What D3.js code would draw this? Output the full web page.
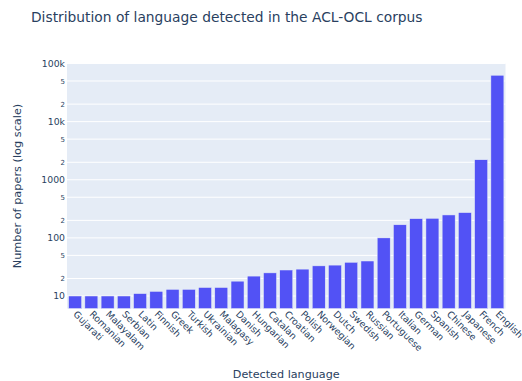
<!DOCTYPE html>
<html>
<head>
<meta charset="utf-8">
<script src="https://cdn.jsdelivr.net/npm/d3@7"></script>
<style>
  html, body { margin: 0; padding: 0; background: #fff; }
  svg { display: block; font-family: "DejaVu Sans", Verdana, sans-serif; }
</style>
</head>
<body>
<svg id="chart" width="522" height="381"></svg>
<script>
// Detected languages, ordered by paper count
const languages = ["Gujarati", "Romanian", "Malayalam", "Serbian", "Latin", "Finnish", "Greek",
  "Turkish", "Ukrainian", "Malagasy", "Danish", "Hungarian", "Catalan", "Croatian", "Polish",
  "Norwegian", "Dutch", "Swedish", "Russian", "Portuguese", "Italian", "German", "Spanish",
  "Chinese", "Japanese", "French", "English"];
const paperCounts = [10, 10, 10, 10, 11, 12, 13, 13, 14, 14, 18, 22, 25, 28, 29, 33, 34, 38, 40,
  100, 168, 214, 217, 248, 272, 2208, 62800];

// Log axis ticks: decades get full labels, 2 and 5 get short minor labels
const yTickValues = [10, 20, 50, 100, 200, 500, 1000, 2000, 5000, 10000, 20000, 50000, 100000];
const yTickLabels = ["10", "2", "5", "100", "2", "5", "1000", "2", "5", "10k", "2", "5", "100k"];

const titleText = "Distribution of language detected in the ACL-OCL corpus";
const xTitle = "Detected language";
const yTitle = "Number of papers (log scale)";

const svg = d3.select("#chart");
const plot = { left: 67, right: 505.5, top: 63.5, bottom: 308.5 };
const textColor = "#2a3f5f";

const x = d3.scaleBand()
  .domain(languages)
  .range([plot.left, plot.right])
  .paddingInner(0.2)
  .paddingOuter(0.1);

const y = d3.scaleLog()
  .domain([Math.pow(10, 0.785), 100000])
  .range([plot.bottom, plot.top]);

// Plot background
svg.append("rect")
  .attr("x", plot.left).attr("y", plot.top)
  .attr("width", plot.right - plot.left).attr("height", plot.bottom - plot.top)
  .attr("fill", "#e5ecf6");

// Horizontal grid lines
svg.append("g").selectAll("line")
  .data(yTickValues)
  .join("line")
  .attr("x1", plot.left).attr("x2", plot.right)
  .attr("y1", d => y(d)).attr("y2", d => y(d))
  .attr("stroke", "#fff").attr("stroke-width", 1);

// Bars
svg.append("g").selectAll("rect")
  .data(languages.map((l, i) => ({ lang: l, count: paperCounts[i] })))
  .join("rect")
  .attr("x", d => x(d.lang))
  .attr("width", x.bandwidth())
  .attr("y", d => y(d.count))
  .attr("height", d => plot.bottom - y(d.count))
  .attr("fill", "#5252f5")
  .attr("stroke", "#e5ecf6")
  .attr("stroke-width", 0.5);

// Y axis
const yAxis = d3.axisLeft(y)
  .tickValues(yTickValues)
  .tickFormat((d, i) => yTickLabels[i])
  .tickSize(0)
  .tickPadding(2);
const gy = svg.append("g")
  .attr("transform", `translate(${plot.left},0)`)
  .call(yAxis);
gy.select(".domain").remove();
gy.selectAll("text")
  .attr("fill", textColor)
  .attr("font-family", "DejaVu Sans, Verdana, sans-serif")
  .attr("font-size", (d, i) => yTickLabels[i].length === 1 ? 7 : 9.3);

// X axis with angled labels
const xAxis = d3.axisBottom(x).tickSize(0).tickPadding(0);
const gx = svg.append("g")
  .attr("transform", `translate(0,${plot.bottom})`)
  .call(xAxis);
gx.select(".domain").remove();
gx.selectAll("text")
  .attr("fill", textColor)
  .attr("font-family", "DejaVu Sans, Verdana, sans-serif")
  .attr("font-size", 9.3)
  .attr("text-anchor", "start")
  .attr("y", 0)
  .attr("dy", "0.35em")
  .attr("transform", "translate(0,4) rotate(45)");

// Titles
svg.append("text")
  .attr("x", 31).attr("y", 21.5)
  .attr("fill", textColor)
  .attr("font-size", 13.8)
  .text(titleText);

svg.append("text")
  .attr("x", (plot.left + plot.right) / 2).attr("y", 378)
  .attr("text-anchor", "middle")
  .attr("fill", textColor)
  .attr("font-size", 11.2)
  .text(xTitle);

svg.append("text")
  .attr("transform", `translate(21,${(plot.top + plot.bottom) / 2}) rotate(-90)`)
  .attr("text-anchor", "middle")
  .attr("fill", textColor)
  .attr("font-size", 11.3)
  .text(yTitle);
</script>
</body>
</html>
